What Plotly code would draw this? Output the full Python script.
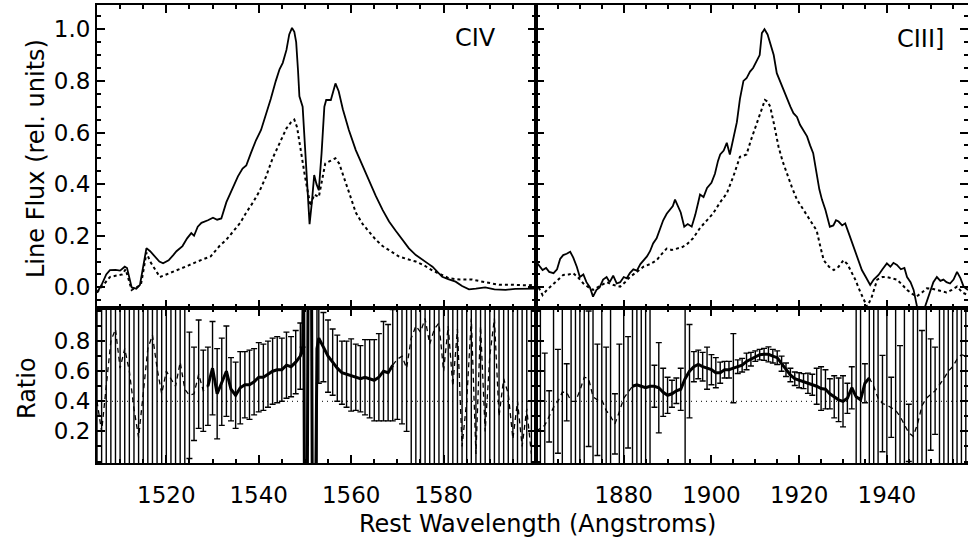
import plotly.graph_objects as go

# ---------------- data ----------------
# C IV, top-left panel: mean profile (solid) and second profile (dotted)
civ_solid_wave = [1505.0, 1506.0, 1507.0, 1507.8, 1509.0, 1510.0, 1511.0, 1511.5, 1512.5, 1513.5,
                  1514.3, 1515.0, 1515.7, 1516.5, 1517.5, 1518.5, 1519.3, 1520.5, 1521.5, 1522.2,
                  1523.5, 1524.5, 1525.4, 1526.0, 1526.8, 1527.6, 1529.0, 1530.1, 1531.0, 1531.9,
                  1533.0, 1534.4, 1535.5, 1536.5, 1537.3, 1538.3, 1539.4, 1540.5, 1541.6, 1542.6,
                  1543.7, 1544.5, 1545.2, 1546.0, 1546.6, 1547.2, 1547.7, 1548.1, 1548.5, 1548.8,
                  1549.5, 1550.0, 1550.5, 1551.0, 1551.5, 1552.0, 1552.5, 1553.0, 1553.6, 1554.2,
                  1554.6, 1555.6, 1556.6, 1557.3, 1558.2, 1559.5, 1561.0, 1562.5, 1563.9, 1565.3,
                  1566.8, 1568.2, 1569.6, 1571.0, 1572.5, 1574.0, 1575.4, 1576.8, 1577.6, 1578.6,
                  1579.7, 1581.0, 1582.6, 1584.0, 1585.5, 1587.0, 1589.0, 1591.0, 1593.4, 1595.5,
                  1597.5, 1599.0, 1600.0]
civ_solid_flux = [-0.02, 0.01, 0.05, 0.067, 0.068, 0.065, 0.08, 0.075, 0.0, -0.005,
                  0.01, 0.08, 0.152, 0.14, 0.12, 0.10, 0.093, 0.105, 0.125, 0.14,
                  0.16, 0.19, 0.21, 0.20, 0.235, 0.25, 0.26, 0.27, 0.262, 0.267,
                  0.33, 0.39, 0.43, 0.46, 0.472, 0.52, 0.57, 0.61, 0.67, 0.73,
                  0.80, 0.845, 0.87, 0.92, 0.98, 1.005, 0.99, 0.95, 0.84, 0.74,
                  0.70, 0.55, 0.38, 0.245, 0.33, 0.435, 0.40, 0.376, 0.52, 0.70,
                  0.726, 0.726, 0.79, 0.76, 0.69, 0.61, 0.532, 0.47, 0.41, 0.355,
                  0.30, 0.255, 0.22, 0.185, 0.151, 0.125, 0.106, 0.09, 0.08, 0.06,
                  0.041, 0.032, 0.022, 0.005, -0.008, -0.005, 0.0, -0.008, -0.01, -0.006,
                  -0.006, -0.005, -0.005]

civ_dot_wave = [1505.0, 1506.5, 1507.8, 1509.0, 1510.5, 1511.2, 1512.0, 1512.5, 1513.5, 1514.5,
                1515.0, 1515.7, 1516.5, 1517.5, 1518.6, 1520.0, 1521.5, 1523.0, 1524.8, 1526.7,
                1528.2, 1529.6, 1531.5, 1533.0, 1534.4, 1536.0, 1537.3, 1538.8, 1540.2, 1541.6,
                1543.0, 1544.5, 1546.0, 1547.0, 1547.7, 1548.3, 1549.0, 1550.0, 1551.2, 1552.0,
                1553.0, 1553.6, 1554.4, 1555.5, 1556.6, 1557.4, 1558.2, 1559.5, 1561.0, 1562.5,
                1563.9, 1565.3, 1566.8, 1568.5, 1570.3, 1572.0, 1574.0, 1575.8, 1577.6, 1579.4,
                1581.2, 1583.5, 1586.2, 1589.0, 1592.0, 1595.0, 1598.0, 1600.0]
civ_dot_flux = [-0.02, 0.01, 0.04, 0.045, 0.05, 0.07, 0.02, -0.01, 0.0, 0.01,
                0.06, 0.135, 0.10, 0.07, 0.04, 0.05, 0.06, 0.07, 0.085, 0.10,
                0.11, 0.12, 0.16, 0.185, 0.215, 0.25, 0.29, 0.33, 0.374, 0.43,
                0.50, 0.56, 0.616, 0.64, 0.65, 0.62, 0.54, 0.43, 0.315, 0.36,
                0.35, 0.40, 0.48, 0.49, 0.50, 0.48, 0.44, 0.37, 0.29, 0.245,
                0.215, 0.185, 0.16, 0.14, 0.12, 0.11, 0.10, 0.085, 0.065, 0.05,
                0.035, 0.03, 0.03, 0.02, 0.01, 0.01, 0.008, 0.01]

# C III], top-right panel
ciii_solid_wave = [1860.0, 1860.6, 1861.5, 1862.3, 1863.0, 1864.0, 1864.8, 1865.5, 1866.2, 1867.0,
                   1867.8, 1868.5, 1869.3, 1870.0, 1870.8, 1871.5, 1872.3, 1873.0, 1873.8, 1874.5,
                   1875.3, 1876.1, 1876.8, 1877.6, 1878.4, 1879.2, 1880.0, 1880.7, 1881.4, 1882.2,
                   1883.0, 1883.8, 1884.5, 1885.3, 1886.0, 1886.7, 1887.5, 1888.2, 1889.0, 1889.8,
                   1890.5, 1891.2, 1891.7, 1892.4, 1893.0, 1893.8, 1894.6, 1895.5, 1896.3, 1897.0,
                   1897.4, 1898.2, 1899.0, 1900.0, 1900.8, 1901.5, 1902.0, 1902.8, 1903.5, 1904.2,
                   1905.0, 1905.8, 1906.5, 1907.3, 1908.0, 1908.8, 1909.5, 1910.3, 1911.0, 1911.5,
                   1912.1, 1912.8, 1913.4, 1914.2, 1914.9, 1915.6, 1916.4, 1917.2, 1918.0, 1918.7,
                   1919.5, 1920.2, 1921.0, 1921.8, 1922.5, 1923.2, 1924.0, 1924.6, 1925.2, 1926.0,
                   1927.0, 1927.8, 1928.4, 1929.0, 1929.8, 1930.5, 1931.3, 1932.4, 1933.3, 1934.3,
                   1935.2, 1936.2, 1937.0, 1938.1, 1939.0, 1940.0, 1940.8, 1941.5, 1942.3, 1943.2,
                   1944.0, 1944.6, 1945.4, 1946.1, 1946.7, 1947.2, 1948.0, 1948.6, 1949.1, 1949.8,
                   1950.6, 1951.4, 1952.2, 1952.9, 1953.6, 1954.4, 1955.2, 1956.0, 1956.8, 1957.5,
                   1958.5]
ciii_solid_flux = [0.10, 0.085, 0.067, 0.075, 0.06, 0.055, 0.07, 0.11, 0.125, 0.13,
                   0.138, 0.115, 0.08, 0.04, 0.05, 0.02, 0.0, -0.036, -0.01, 0.0,
                   0.03, 0.04, 0.02, 0.045, 0.015, 0.02, 0.04, 0.035, 0.055, 0.07,
                   0.065, 0.09, 0.105, 0.12, 0.14, 0.17, 0.19, 0.22, 0.26, 0.285,
                   0.30, 0.315, 0.34, 0.31, 0.29, 0.235, 0.245, 0.235, 0.28, 0.33,
                   0.36, 0.35, 0.385, 0.405, 0.44, 0.49, 0.515, 0.53, 0.56, 0.515,
                   0.58, 0.64, 0.73, 0.80, 0.81, 0.836, 0.85, 0.88, 0.90, 0.985,
                   1.0, 0.98, 0.946, 0.90, 0.83, 0.80, 0.765, 0.73, 0.70, 0.675,
                   0.66, 0.63, 0.61, 0.585, 0.55, 0.52, 0.44, 0.38, 0.34, 0.30,
                   0.235, 0.24, 0.26, 0.255, 0.24, 0.248, 0.21, 0.158, 0.11, 0.067,
                   0.04, 0.009, 0.03, 0.048, 0.07, 0.093, 0.08, 0.095, 0.087, 0.07,
                   0.075, 0.04, 0.02, -0.01, -0.06, -0.10, -0.11, -0.08, -0.06, -0.02,
                   0.02, 0.04, 0.025, 0.03, 0.02, 0.015, 0.03, 0.06, 0.035, 0.003,
                   -0.01]

ciii_dot_wave = [1860.0, 1860.8, 1861.5, 1862.5, 1864.0, 1865.0, 1866.2, 1867.5, 1868.5, 1869.5,
                 1870.8, 1872.0, 1873.0, 1874.5, 1876.1, 1877.5, 1879.2, 1880.3, 1881.4, 1883.0,
                 1884.5, 1886.0, 1887.5, 1888.7, 1889.8, 1891.0, 1892.1, 1893.2, 1894.3, 1895.8,
                 1897.4, 1898.8, 1900.4, 1902.0, 1903.5, 1905.0, 1906.5, 1907.3, 1908.0, 1909.0,
                 1910.3, 1911.3, 1912.2, 1912.8, 1913.4, 1914.3, 1915.3, 1916.2, 1917.2, 1918.3,
                 1919.5, 1920.6, 1921.8, 1923.0, 1924.0, 1924.8, 1925.6, 1926.8, 1927.9, 1929.0,
                 1930.1, 1931.0, 1931.7, 1932.8, 1934.0, 1935.5, 1936.5, 1937.8, 1939.0, 1940.0,
                 1941.2, 1942.3, 1943.5, 1944.6, 1945.8, 1946.8, 1948.0, 1949.1, 1950.2, 1951.3,
                 1952.5, 1953.6, 1954.8, 1956.0, 1957.2, 1958.5]
ciii_dot_flux = [0.02, -0.01, -0.03, -0.01, 0.015, 0.03, 0.048, 0.05, 0.055, 0.04,
                 0.015, 0.0, -0.01, 0.005, 0.02, 0.01, 0.003, 0.02, 0.04, 0.06,
                 0.08, 0.09, 0.105, 0.13, 0.15, 0.145, 0.15, 0.155, 0.165, 0.19,
                 0.23, 0.255, 0.287, 0.33, 0.364, 0.43, 0.506, 0.51, 0.515, 0.57,
                 0.635, 0.69, 0.726, 0.72, 0.70, 0.63, 0.545, 0.49, 0.44, 0.39,
                 0.34, 0.31, 0.28, 0.25, 0.22, 0.16, 0.105, 0.08, 0.067, 0.08,
                 0.105, 0.09, 0.067, 0.03, -0.02, -0.075, -0.04, 0.03, 0.04, 0.04,
                 0.035, 0.03, 0.01, -0.01, -0.025, -0.035, -0.02, -0.004, -0.005, -0.01,
                 -0.015, -0.02, -0.01, 0.003, -0.02, -0.03]

# Ratio panels: ratio value and 1-sigma error per wavelength bin
civ_ratio_wave = [1505, 1506, 1507, 1508, 1509, 1510, 1511, 1512, 1513, 1514,
                  1515, 1516, 1517, 1518, 1519, 1520, 1521, 1522, 1523, 1524,
                  1525, 1526, 1527, 1528, 1529, 1530, 1531, 1532, 1533, 1534,
                  1535, 1536, 1537, 1538, 1539, 1540, 1541, 1542, 1543, 1544,
                  1545, 1546, 1547, 1548, 1549, 1549.5, 1549.7, 1549.9, 1550.5, 1550.7,
                  1551.4, 1551.6, 1552.3, 1552.6, 1553, 1554, 1555, 1556, 1557, 1558, 1559,
                  1560, 1561, 1562, 1563, 1564, 1565, 1566, 1567, 1568, 1569,
                  1570, 1571, 1572, 1573, 1574, 1575, 1576, 1577, 1578, 1579,
                  1580, 1581, 1582, 1583, 1584, 1585, 1586, 1587, 1588, 1589,
                  1590, 1591, 1592, 1593, 1594, 1595, 1596, 1597, 1598, 1599]
civ_ratio = [0.40, 0.20, 0.50, 0.80, 0.88, 0.62, 0.75, 0.60, 0.35, 0.16,
             0.45, 0.75, 0.84, 0.62, 0.45, 0.60, 0.55, 0.50, 0.66, 0.48,
             0.44, 0.45, 0.58, 0.47, 0.50, 0.62, 0.45, 0.53, 0.60, 0.48,
             0.44, 0.49, 0.51, 0.51, 0.53, 0.56, 0.56, 0.58, 0.60, 0.61,
             0.61, 0.64, 0.63, 0.66, 0.70, 0.76, 1.40, -0.30, -0.30, 1.40,
             1.40, -0.30, -0.30, 0.75, 0.82, 0.76, 0.70, 0.66, 0.62, 0.59, 0.58,
             0.575, 0.56, 0.55, 0.56, 0.55, 0.54, 0.56, 0.60, 0.59, 0.64,
             0.68, 0.70, 0.62, 0.82, 0.90, 0.86, 0.95, 0.78, 0.88, 0.92,
             0.60, 0.90, 0.50, 0.88, 0.10, 0.40, 0.95, 0.05, 0.90, 0.20,
             0.70, 0.95, 0.30, 0.55, 0.45, 0.15, 0.40, 0.10, 0.35, 0.05]
civ_ratio_err = [1.5, 1.5, 1.5, 1.5, 1.5, 1.5, 1.5, 1.5, 1.5, 1.5,
                 1.5, 1.5, 1.5, 1.5, 1.5, 1.5, 1.5, 1.5, 1.5, 1.5,
                 0.42, 0.31, 0.36, 0.27, 0.26, 0.31, 0.30, 0.29, 0.30, 0.21,
                 0.22, 0.24, 0.22, 0.23, 0.22, 0.23, 0.22, 0.22, 0.22, 0.22,
                 0.21, 0.22, 0.20, 0.21, 0.22, 0, 0, 0, 0, 0,
                 0, 0, 0, 1.5, 0.30, 0.23, 0.24, 0.22, 0.22, 0.21, 0.22,
                 0.24, 0.22, 0.22, 0.25, 0.26, 0.27, 0.29, 0.33, 0.32, 0.37,
                 0.40, 0.45, 0.42, 1.5, 1.5, 1.5, 1.5, 1.5, 1.5, 1.5,
                 1.5, 1.5, 1.5, 1.5, 1.5, 1.5, 1.5, 1.5, 1.5, 1.5,
                 1.5, 1.5, 1.5, 1.5, 1.5, 1.5, 1.5, 1.5, 1.5, 1.5]
civ_solid_range = (1529.0, 1569.7)   # part of the ratio drawn as a thick solid line

ciii_ratio_wave = [1860, 1861, 1862, 1863, 1864, 1865, 1866, 1867, 1868, 1869,
                   1870, 1871, 1872, 1873, 1874, 1875, 1876, 1877, 1878, 1879,
                   1880, 1881, 1882, 1883, 1884, 1885, 1886, 1887, 1888, 1889,
                   1890, 1891, 1892, 1893, 1894, 1895, 1896, 1897, 1898, 1899,
                   1900, 1901, 1902, 1903, 1904, 1905, 1906, 1907, 1908, 1909,
                   1910, 1911, 1912, 1913, 1914, 1915, 1916, 1917, 1918, 1919,
                   1920, 1921, 1922, 1923, 1924, 1925, 1926, 1927, 1928, 1929,
                   1930, 1931, 1932, 1933, 1934, 1935, 1936, 1937, 1938, 1939,
                   1940, 1941, 1942, 1943, 1944, 1945, 1946, 1947, 1948, 1949,
                   1950, 1951, 1952, 1953, 1954, 1955, 1956, 1957, 1958]
ciii_ratio = [0.20, 0.22, 0.24, 0.30, 0.36, 0.40, 0.46, 0.46, 0.40, 0.40,
              0.47, 0.56, 0.55, 0.43, 0.41, 0.41, 0.34, 0.30, 0.25, 0.33,
              0.42, 0.46, 0.50, 0.51, 0.50, 0.49, 0.50, 0.50, 0.49, 0.46,
              0.44, 0.45, 0.47, 0.48, 0.55, 0.60, 0.63, 0.645, 0.63, 0.62,
              0.61, 0.59, 0.59, 0.61, 0.61, 0.62, 0.63, 0.64, 0.665, 0.68,
              0.70, 0.71, 0.712, 0.712, 0.70, 0.69, 0.65, 0.61, 0.575, 0.55,
              0.54, 0.534, 0.52, 0.51, 0.50, 0.485, 0.48, 0.45, 0.43, 0.41,
              0.40, 0.42, 0.49, 0.43, 0.41, 0.52, 0.556, 0.50, 0.42, 0.385,
              0.375, 0.36, 0.34, 0.30, 0.24, 0.19, 0.167, 0.25, 0.37, 0.42,
              0.445, 0.47, 0.51, 0.55, 0.60, 0.63, 0.68, 0.71, 0.70]
ciii_ratio_err = [1.5, 1.5, 0.48, 0.17, 1.5, 0.345, 1.5, 0.19, 1.5, 1.5,
                  1.5, 1.5, 0.45, 1.5, 0.37, 1.5, 0.42, 1.5, 0.20, 0.45,
                  1.5, 0.37, 1.5, 1.5, 1.5, 1.5, 1.5, 0.14, 0.30, 0.16,
                  0.12, 0.09, 0.085, 0.14, 1.5, 0.31, 0.10, 0.095, 0.095, 0.14,
                  0.10, 0.10, 0.07, 0.055, 0.055, 0.23, 0.045, 0.045, 0.055, 0.045,
                  0.035, 0.035, 0.04, 0.05, 0.045, 0.045, 0.05, 0.045, 0.045, 0.045,
                  0.05, 0.05, 0.067, 0.07, 0.12, 0.145, 0.13, 0.10, 0.14, 0.145,
                  0.17, 0.10, 0.14, 1.5, 1.5, 0.13, 1.5, 1.5, 1.5, 0.32,
                  1.5, 0.20, 1.5, 0.47, 1.5, 0.19, 1.5, 1.5, 0.50, 1.5,
                  0.37, 0.29, 1.5, 1.5, 1.5, 1.5, 1.5, 1.5, 1.5]
ciii_solid_range = (1881.5, 1936.2)

ratio_reference_level = 0.4

civ_xrange = [1505, 1600]
ciii_xrange = [1860, 1958.5]
civ_xticks = [1520, 1540, 1560, 1580]
ciii_xticks = [1880, 1900, 1920, 1940]
flux_yrange = [-0.08, 1.094]
flux_yticks = [0.0, 0.2, 0.4, 0.6, 0.8, 1.0]
ratio_yrange = [-0.01, 1.02]
ratio_yticks = [0.2, 0.4, 0.6, 0.8]

# ---------------- figure ----------------
W, H = 968, 543
FONT = "DejaVu Sans"
fig = go.Figure()

def px_x(p):
    return p / W

def px_y(p):
    return 1 - p / H

x_left = [px_x(97), px_x(536)]
x_right = [px_x(536), 1.0]
y_top = [px_y(308), px_y(5)]
y_bot = [px_y(463), px_y(308)]

SOLID_W = 1.8

# top panels
fig.add_trace(go.Scatter(x=civ_solid_wave, y=civ_solid_flux, mode="lines",
                         line=dict(color="black", width=SOLID_W), xaxis="x", yaxis="y"))
fig.add_trace(go.Scatter(x=civ_dot_wave, y=civ_dot_flux, mode="lines",
                         line=dict(color="black", width=2, dash="dot"), xaxis="x", yaxis="y"))
fig.add_trace(go.Scatter(x=ciii_solid_wave, y=ciii_solid_flux, mode="lines",
                         line=dict(color="black", width=SOLID_W), xaxis="x2", yaxis="y2"))
fig.add_trace(go.Scatter(x=ciii_dot_wave, y=ciii_dot_flux, mode="lines",
                         line=dict(color="black", width=2, dash="dot"), xaxis="x2", yaxis="y2"))

def ratio_traces(wave, ratio, err, solid_range, xa, ya):
    fig.add_trace(go.Scatter(x=wave, y=ratio, mode="lines",
                             line=dict(color="black", width=1.3, dash="5px,4px"),
                             error_y=dict(type="data", array=err, visible=True,
                                          color="black", thickness=1.4, width=3),
                             xaxis=xa, yaxis=ya))
    sw = [w for w in wave if solid_range[0] <= w <= solid_range[1]]
    sr = [r for w, r in zip(wave, ratio) if solid_range[0] <= w <= solid_range[1]]
    fig.add_trace(go.Scatter(x=sw, y=sr, mode="lines",
                             line=dict(color="black", width=3.0), xaxis=xa, yaxis=ya))

ratio_traces(civ_ratio_wave, civ_ratio, civ_ratio_err, civ_solid_range, "x3", "y3")
ratio_traces(ciii_ratio_wave, ciii_ratio, ciii_ratio_err, ciii_solid_range, "x4", "y4")

for xa in ["x3", "x4"]:
    fig.add_shape(type="line", xref=xa + " domain", yref=xa.replace("x", "y"),
                  x0=0, x1=1, y0=ratio_reference_level, y1=ratio_reference_level,
                  line=dict(color="black", width=1, dash="1px,4px"), layer="below")

def axis_common():
    return dict(showline=True, linewidth=2, linecolor="black", mirror="allticks",
                ticks="inside", ticklen=8, tickwidth=2, tickcolor="black",
                showgrid=False, zeroline=False, automargin=False,
                tickfont=dict(family=FONT, size=23, color="black"))

def xaxis(domain, rng, ticks, anchor, labels):
    d = axis_common()
    d.update(domain=domain, range=rng, tickmode="array", tickvals=ticks,
             showticklabels=labels, anchor=anchor, ticklabelstandoff=10,
             minor=dict(tickmode="linear", tick0=1500, dtick=5, ticklen=4,
                        tickwidth=1.5, ticks="inside", tickcolor="black"))
    return d

def yaxis(domain, rng, ticks, anchor, labels, minor_step):
    d = axis_common()
    d.update(domain=domain, range=rng, tickmode="array", tickvals=ticks,
             ticktext=["%.1f" % t for t in ticks],
             showticklabels=labels, anchor=anchor,
             minor=dict(tickmode="linear", tick0=0, dtick=minor_step, ticklen=4,
                        tickwidth=1.5, ticks="inside", tickcolor="black"))
    return d

fig.update_layout(
    width=W, height=H, margin=dict(l=0, r=0, t=0, b=0, autoexpand=False),
    paper_bgcolor="white", plot_bgcolor="white", showlegend=False,
    xaxis=xaxis(x_left, civ_xrange, civ_xticks, "y", False),
    xaxis2=xaxis(x_right, ciii_xrange, ciii_xticks, "y2", False),
    xaxis3=xaxis(x_left, civ_xrange, civ_xticks, "y3", True),
    xaxis4=xaxis(x_right, ciii_xrange, ciii_xticks, "y4", True),
    yaxis=yaxis(y_top, flux_yrange, flux_yticks, "x", True, 0.05),
    yaxis2=yaxis(y_top, flux_yrange, flux_yticks, "x2", False, 0.05),
    yaxis3=yaxis(y_bot, ratio_yrange, ratio_yticks, "x3", True, 0.1),
    yaxis4=yaxis(y_bot, ratio_yrange, ratio_yticks, "x4", False, 0.1),
)

ann_font = dict(family=FONT, size=24, color="black")
fig.add_annotation(text="CIV", xref="paper", yref="paper", x=px_x(498), y=px_y(38),
                   xanchor="right", yanchor="middle", showarrow=False, font=ann_font)
fig.add_annotation(text="CIII]", xref="paper", yref="paper", x=px_x(946), y=px_y(39),
                   xanchor="right", yanchor="middle", showarrow=False, font=ann_font)
fig.add_annotation(text="Line Flux (rel. units)", xref="paper", yref="paper",
                   x=px_x(36), y=px_y(159), textangle=-90, xanchor="center",
                   yanchor="middle", showarrow=False, font=ann_font)
fig.add_annotation(text="Ratio", xref="paper", yref="paper",
                   x=px_x(27), y=px_y(388), textangle=-90, xanchor="center",
                   yanchor="middle", showarrow=False, font=ann_font)
fig.add_annotation(text="Rest Wavelength (Angstroms)", xref="paper", yref="paper",
                   x=px_x(537), y=px_y(524), xanchor="center", yanchor="middle",
                   showarrow=False, font=ann_font)

fig.write_html("out.html", config={"displayModeBar": False},
               post_script="document.body.style.margin='0px';document.body.style.overflow='hidden';")
